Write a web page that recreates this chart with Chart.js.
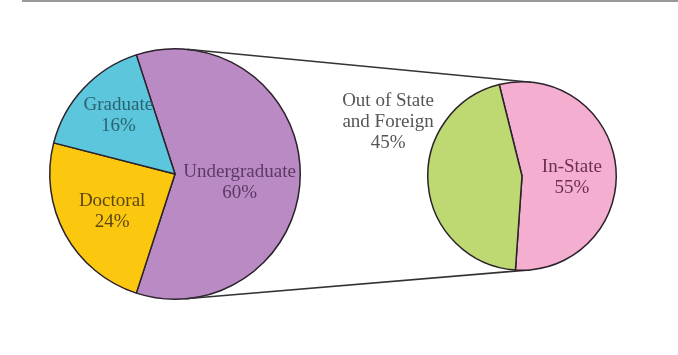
<!DOCTYPE html>
<html>
<head>
<meta charset="utf-8">
<script src="https://cdn.jsdelivr.net/npm/chart.js@4.4.0/dist/chart.umd.min.js"></script>
<style>
  html, body { margin: 0; padding: 0; background: #fff; }
  #wrap { position: relative; width: 678px; height: 355px; overflow: hidden; }
  #wrap canvas { position: absolute; left: 0; top: 0; }
  #rule { position: absolute; left: 22px; top: 0; width: 656px; height: 2px; background: #999; }
</style>
</head>
<body>
<div id="wrap">
  <div id="rule"></div>
  <canvas id="levelPie" width="678" height="355"></canvas>
  <canvas id="residencyPie" width="678" height="355"></canvas>
</div>
<script>
// ---- data ----
const levelLabels = ["Undergraduate", "Doctoral", "Graduate"];
const levelValues = [60, 24, 16];
const levelColors = ["#b98ac3", "#fcc70f", "#5cc6dd"];
const levelTextColors = ["#5b3b66", "#5a4710", "#2b6271"];

const residencyLabels = ["In-State", "Out of State\nand Foreign"];
const residencyValues = [55, 45];
const residencyColors = ["#f4aed0", "#bed872"];
const residencyTextColors = ["#6b2f52", "#555555"];

const FONT = "19px 'Liberation Serif', 'DejaVu Serif', serif";
const BORDER = "#2b222b";

// draws "label\nNN%" at each slice, with an optional shift [dx, dy]
function sliceLabels(textColors, shifts) {
  return {
    id: "sliceLabels",
    afterDatasetsDraw(chart) {
      const ctx = chart.ctx;
      const meta = chart.getDatasetMeta(0);
      const labels = chart.data.labels;
      const values = chart.data.datasets[0].data;
      ctx.save();
      ctx.font = FONT;
      ctx.textAlign = "center";
      ctx.textBaseline = "middle";
      meta.data.forEach((arc, i) => {
        const p = arc.tooltipPosition();
        const s = shifts[i] || [0, 0];
        const lines = labels[i].split("\n").concat([values[i] + "%"]);
        const lh = 21;
        const y0 = p.y + s[1] - (lines.length - 1) * lh / 2;
        ctx.fillStyle = textColors[i];
        lines.forEach((t, k) => ctx.fillText(t, p.x + s[0], y0 + k * lh));
      });
      ctx.restore();
    }
  };
}

function pieOptions(padding, rotation) {
  return {
    responsive: false,
    animation: false,
    rotation: rotation,
    layout: { padding: padding },
    plugins: { legend: { display: false }, tooltip: { enabled: false } }
  };
}

const levelChart = new Chart(document.getElementById("levelPie"), {
  type: "pie",
  data: {
    labels: levelLabels,
    datasets: [{
      data: levelValues,
      backgroundColor: levelColors,
      borderColor: BORDER,
      borderWidth: 1.5
    }]
  },
  options: pieOptions({ left: 48, top: 48, right: 376, bottom: 55 }, -18),
  plugins: [sliceLabels(levelTextColors, [[2, 9], [-8, 7], [-11, -16]])]
});

// the two outer tangent lines joining the pies
const connector = {
  id: "connector",
  beforeDatasetsDraw(chart) {
    const a = levelChart.getDatasetMeta(0).data[0];
    const b = chart.getDatasetMeta(0).data[0];
    const c1 = { x: a.x, y: a.y, r: a.outerRadius };
    const c2 = { x: b.x, y: b.y, r: b.outerRadius };
    const dx = c2.x - c1.x, dy = c2.y - c1.y;
    const d = Math.hypot(dx, dy);
    const base = Math.atan2(dy, dx);
    const off = Math.acos((c1.r - c2.r) / d);
    const ctx = chart.ctx;
    ctx.save();
    ctx.strokeStyle = "#333";
    ctx.lineWidth = 1.6;
    [base - off, base + off].forEach(t => {
      ctx.beginPath();
      ctx.moveTo(c1.x + c1.r * Math.cos(t), c1.y + c1.r * Math.sin(t));
      ctx.lineTo(c2.x + c2.r * Math.cos(t), c2.y + c2.r * Math.sin(t));
      ctx.stroke();
    });
    ctx.restore();
  }
};

new Chart(document.getElementById("residencyPie"), {
  type: "pie",
  data: {
    labels: residencyLabels,
    datasets: [{
      data: residencyValues,
      backgroundColor: residencyColors,
      borderColor: BORDER,
      borderWidth: 1.5
    }]
  },
  options: pieOptions({ left: 427, top: 81, right: 61, bottom: 84 }, -14),
  plugins: [connector, sliceLabels(residencyTextColors, [[3, 6], [-87, -58]])]
});
</script>
</body>
</html>
